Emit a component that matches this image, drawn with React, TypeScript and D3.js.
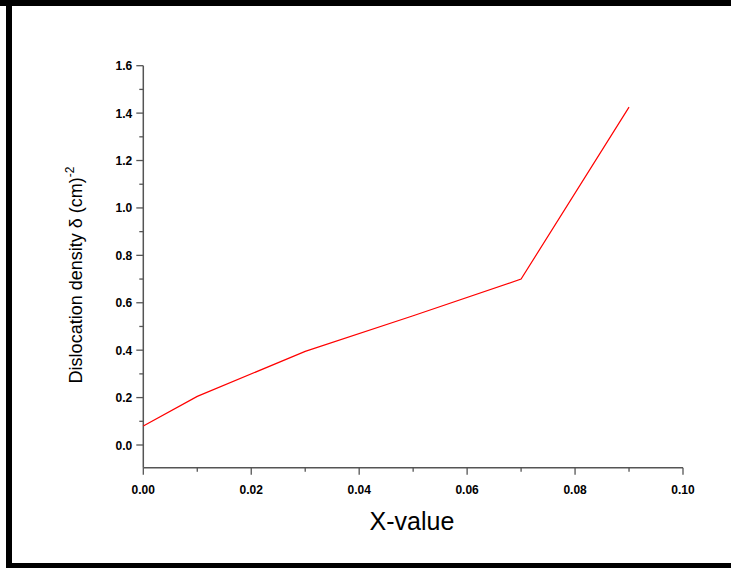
import React, { useEffect, useRef } from "react";
import * as d3 from "d3";

// Dislocation density vs. composition
const xValues = [0.0, 0.01, 0.03, 0.05, 0.07, 0.09];
const densityValues = [0.08, 0.205, 0.395, 0.545, 0.70, 1.425];
const xTicks = [0.0, 0.02, 0.04, 0.06, 0.08, 0.1];
const yTicks = [0.0, 0.2, 0.4, 0.6, 0.8, 1.0, 1.2, 1.4, 1.6];

const W = 731;
const H = 568;

export default function App() {
  const ref = useRef<SVGSVGElement>(null);

  useEffect(() => {
    document.body.style.margin = "0";
    const svg = d3.select(ref.current);
    svg.selectAll("*").remove();

    // frame
    svg.append("rect").attr("x", 0).attr("y", 0).attr("width", W).attr("height", H).attr("fill", "#fff");
    svg.append("rect").attr("x", 0).attr("y", 0).attr("width", W).attr("height", 6).attr("fill", "#000");
    svg.append("rect").attr("x", 6).attr("y", 0).attr("width", 6).attr("height", H).attr("fill", "#000");
    svg.append("rect").attr("x", 6).attr("y", 563).attr("width", W - 6).attr("height", 5).attr("fill", "#000");

    const x = d3.scaleLinear().domain([0, 0.1]).range([143.3, 683]);
    const y = d3.scaleLinear().domain([0, 1.6]).range([445, 65.7]);
    const yBottom = y(-0.0955);

    const axisColor = "#555";
    const g = svg.append("g");

    // y axis
    g.append("line").attr("x1", x(0)).attr("x2", x(0)).attr("y1", y(1.6)).attr("y2", yBottom)
      .attr("stroke", axisColor).attr("stroke-width", 1.5);
    const yMinor = d3.range(-0.1, 1.61, 0.1).filter((v) => v > -0.05);
    yMinor.forEach((v) => {
      const major = Math.abs(Math.round(v * 10) % 2) === 0;
      g.append("line").attr("x1", x(0)).attr("x2", x(0) - (major ? 7 : 4))
        .attr("y1", y(v)).attr("y2", y(v)).attr("stroke", axisColor).attr("stroke-width", 1.3);
    });
    yTicks.forEach((v) => {
      g.append("text").attr("x", x(0) - 11).attr("y", y(v) + 4.5)
        .attr("text-anchor", "end").attr("font-family", "Liberation Sans, Arial, sans-serif")
        .attr("font-weight", "bold").attr("font-size", 12).attr("fill", "#000")
        .text(v.toFixed(1));
    });

    // x axis
    g.append("line").attr("x1", x(0)).attr("x2", x(0.1)).attr("y1", yBottom).attr("y2", yBottom)
      .attr("stroke", axisColor).attr("stroke-width", 1.5);
    d3.range(0, 0.1001, 0.01).forEach((v, i) => {
      const major = i % 2 === 0;
      g.append("line").attr("x1", x(v)).attr("x2", x(v))
        .attr("y1", yBottom).attr("y2", yBottom + (major ? 7 : 4))
        .attr("stroke", axisColor).attr("stroke-width", 1.3);
    });
    xTicks.forEach((v) => {
      g.append("text").attr("x", x(v)).attr("y", yBottom + 26)
        .attr("text-anchor", "middle").attr("font-family", "Liberation Sans, Arial, sans-serif")
        .attr("font-weight", "bold").attr("font-size", 12).attr("fill", "#000")
        .text(v.toFixed(2));
    });

    // axis titles
    g.append("text").attr("x", 412).attr("y", 530).attr("text-anchor", "middle")
      .attr("font-family", "Liberation Sans, Arial, sans-serif").attr("font-size", 25).attr("fill", "#000")
      .text("X-value");

    const yt = g.append("text").attr("transform", "translate(82,275) rotate(-90)")
      .attr("text-anchor", "middle").attr("font-family", "Liberation Sans, Arial, sans-serif")
      .attr("font-size", 18).attr("fill", "#000");
    yt.append("tspan").text("Dislocation density δ (cm)");
    yt.append("tspan").attr("dy", -8).attr("font-size", 12).text("-2");

    // data line
    const line = d3.line<number>().x((_, i) => x(xValues[i])).y((d) => y(d));
    g.append("path").attr("d", line(densityValues) as string)
      .attr("fill", "none").attr("stroke", "#ff0000").attr("stroke-width", 1.2);
  }, []);

  return (
    <div style={{ position: "absolute", left: 0, top: 0 }}>
      <svg ref={ref} width={W} height={H} />
    </div>
  );
}
